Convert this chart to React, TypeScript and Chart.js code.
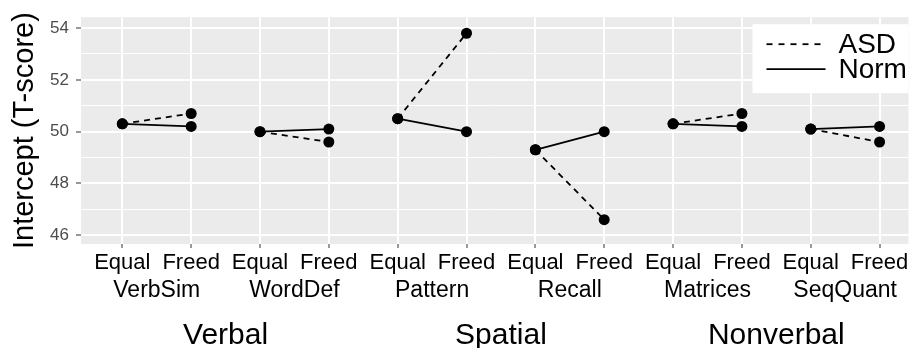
import React, { useEffect, useRef } from "react";
import { Chart, registerables } from "chart.js";

Chart.register(...registerables);

// Conditions along the x axis, one per position
const conditions = [
  "Equal", "Freed", "Equal", "Freed", "Equal", "Freed",
  "Equal", "Freed", "Equal", "Freed", "Equal", "Freed",
];
// Subtests, each spanning an Equal/Freed pair
const tests = ["VerbSim", "WordDef", "Pattern", "Recall", "Matrices", "SeqQuant"];
// Domains, each spanning two subtests
const domains = ["Verbal", "Spatial", "Nonverbal"];

// Intercepts (T-score) per condition
const asdValues = [50.3, 50.7, 50.0, 49.6, 50.5, 53.8, 49.3, 46.6, 50.3, 50.7, 50.1, 49.6];
const normValues = [50.3, 50.2, 50.0, 50.1, 50.5, 50.0, 49.3, 50.0, 50.3, 50.2, 50.1, 50.2];

const seriesNames = ["ASD", "Norm"];

const FONT = "'Liberation Sans', Arial, Helvetica, sans-serif";

// grey panel behind the plotting area
const panelBackground = {
  id: "panelBackground",
  beforeDraw(chart: any) {
    const { ctx, chartArea } = chart;
    ctx.save();
    ctx.fillStyle = "#EBEBEB";
    ctx.fillRect(chartArea.left, chartArea.top, chartArea.right - chartArea.left, chartArea.bottom - chartArea.top);
    ctx.restore();
  },
};

// subtest and domain labels under the condition ticks
const groupLabels = {
  id: "groupLabels",
  afterDraw(chart: any) {
    const { ctx } = chart;
    const xs = chart.scales.x;
    ctx.save();
    ctx.fillStyle = "#000";
    ctx.textAlign = "center";
    ctx.textBaseline = "alphabetic";
    ctx.font = `23px ${FONT}`;
    tests.forEach((t, k) => ctx.fillText(t, xs.getPixelForValue(2 * k + 0.5), 297));
    ctx.font = `30px ${FONT}`;
    domains.forEach((d, k) => ctx.fillText(d, xs.getPixelForValue(4 * k + 1.5), 344));
    ctx.restore();
  },
};

// legend box in the top-right corner of the panel
const insetLegend = {
  id: "insetLegend",
  afterDraw(chart: any) {
    const { ctx, chartArea } = chart;
    const w = 156;
    const h = 69;
    const left = chartArea.right - w;
    const top = chartArea.top + 7;
    ctx.save();
    ctx.fillStyle = "#FFFFFF";
    ctx.fillRect(left, top, w, h);
    ctx.strokeStyle = "#000";
    ctx.lineWidth = 1.8;
    const rows = [top + 20, top + 45];
    seriesNames.forEach((name, i) => {
      ctx.setLineDash(i === 0 ? [6, 6] : []);
      ctx.beginPath();
      ctx.moveTo(left + 14, rows[i]);
      ctx.lineTo(left + 73, rows[i]);
      ctx.stroke();
    });
    ctx.setLineDash([]);
    ctx.fillStyle = "#000";
    ctx.font = `28px ${FONT}`;
    ctx.textAlign = "left";
    ctx.textBaseline = "middle";
    seriesNames.forEach((name, i) => ctx.fillText(name, left + 86, rows[i] + 1));
    ctx.restore();
  },
};

// hide segments that would join one subtest to the next
const withinPair = (ctx: any) => (ctx.p0DataIndex % 2 === 1 ? "rgba(0,0,0,0)" : "#000");

export default function App() {
  const canvasRef = useRef<HTMLCanvasElement | null>(null);

  useEffect(() => {
    document.body.style.margin = "0";
    const canvas = canvasRef.current;
    if (!canvas) return;

    const chart = new Chart(canvas, {
      type: "line",
      data: {
        datasets: [
          {
            label: seriesNames[0],
            data: asdValues.map((v, i) => ({ x: i, y: v })),
            borderColor: "#000",
            borderWidth: 1.8,
            borderDash: [6, 5],
            segment: { borderColor: withinPair },
            pointRadius: 5.5,
            pointBackgroundColor: "#000",
            pointBorderWidth: 0,
            fill: false,
          },
          {
            label: seriesNames[1],
            data: normValues.map((v, i) => ({ x: i, y: v })),
            borderColor: "#000",
            borderWidth: 1.8,
            segment: { borderColor: withinPair },
            pointRadius: 5.5,
            pointBackgroundColor: "#000",
            pointBorderWidth: 0,
            fill: false,
          },
        ],
      },
      options: {
        animation: false,
        responsive: false,
        devicePixelRatio: 1,
        layout: { padding: { top: 15, right: 2, left: 0, bottom: 0 } },
        plugins: {
          legend: { display: false },
          tooltip: { enabled: false },
        },
        scales: {
          x: {
            type: "linear",
            min: -0.6,
            max: 11.42,
            border: { display: false },
            grid: {
              color: "#FFFFFF",
              lineWidth: 2,
              tickColor: "#333333",
              tickLength: 4,
              tickWidth: 1,
            },
            ticks: {
              stepSize: 1,
              includeBounds: false,
              autoSkip: false,
              maxRotation: 0,
              color: "#000",
              padding: 2,
              font: { family: FONT, size: 22 },
              callback: (v: any) => conditions[v as number] ?? "",
            },
            afterFit: (s: any) => {
              s.height = 104;
            },
          },
          y: {
            type: "linear",
            min: 45.66,
            max: 54.42,
            border: { display: false },
            grid: {
              color: "#FFFFFF",
              lineWidth: (c: any) => (c.tick && c.tick.value % 2 === 0 ? 2 : 1),
              tickColor: (c: any) => (c.tick && c.tick.value % 2 === 0 ? "#333333" : "rgba(0,0,0,0)"),
              tickLength: 5,
              tickWidth: 1,
            },
            ticks: {
              stepSize: 1,
              includeBounds: false,
              color: "#4D4D4D",
              padding: 7,
              font: { family: FONT, size: 17 },
              callback: (v: any) => (v % 2 === 0 ? String(v) : ""),
            },
            title: {
              display: true,
              text: "Intercept (T-score)",
              color: "#000",
              font: { family: FONT, size: 29 },
              padding: { top: 8, bottom: 0 },
            },
            afterFit: (s: any) => {
              s.width = 81;
            },
          },
        },
      },
      plugins: [panelBackground, groupLabels, insetLegend],
    });

    return () => chart.destroy();
  }, []);

  return <canvas ref={canvasRef} width={914} height={348} style={{ display: "block" }} />;
}
